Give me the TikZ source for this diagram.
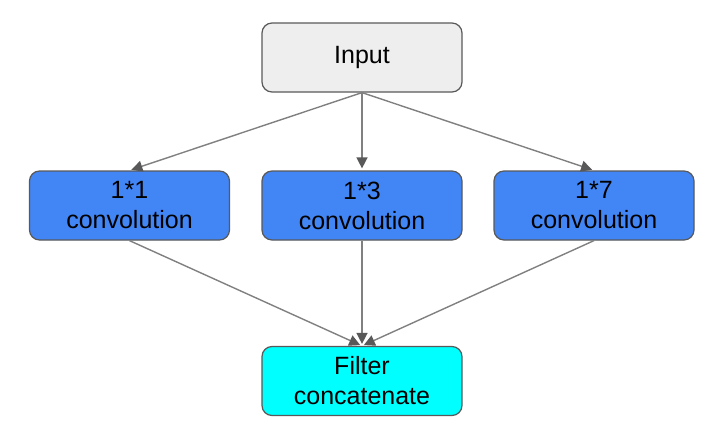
\documentclass[tikz,border=0pt]{standalone}
\usepackage{fontspec}
\setmainfont{Liberation Sans}
\usepackage{tikz}
\usetikzlibrary{arrows.meta}
\definecolor{boxline}{HTML}{595959}
\definecolor{edgeline}{HTML}{808080}
\definecolor{inputfill}{HTML}{EEEEEE}
\definecolor{convfill}{HTML}{4285F4}
\definecolor{concatfill}{HTML}{00FFFF}
\tikzset{
	block/.style={rectangle,rounded corners=5pt,draw=boxline,line width=0.6pt,
		minimum width=100pt,minimum height=34.5pt,align=center,
		font=\fontsize{12.5}{15}\selectfont,inner sep=2pt},
	input node/.style={block,fill=inputfill},
	conv node/.style={block,fill=convfill},
	concat node/.style={block,fill=concatfill}
}

\begin{document}
\begin{tikzpicture}[x=0.5pt,y=-0.5pt,->,
		>={Triangle[length=5.5pt,width=5.5pt,color=boxline]},
		every edge/.style={draw=edgeline,line width=0.7pt,shorten >=1pt}]
	\useasboundingbox (0,0) rectangle (718,429);
	\node [input node] (input) at (362,57.5) {Input};
	\node [conv node] (conv1) at (129.5,205.5) {1*1\\convolution};
	\node [conv node] (conv3) at (362,205.5) {1*3\\convolution};
	\node [conv node] (conv7) at (594,205.5) {1*7\\convolution};
	\node [concat node] (concat) at (362,381) {Filter\\concatenate};
	\path (input.south) edge (conv1.north)
	      (input.south) edge (conv3.north)
	      (input.south) edge (conv7.north);
	\path (conv1.south) edge (concat.north)
	      (conv3.south) edge (concat.north)
	      (conv7.south) edge (concat.north);
\end{tikzpicture}
\end{document}
